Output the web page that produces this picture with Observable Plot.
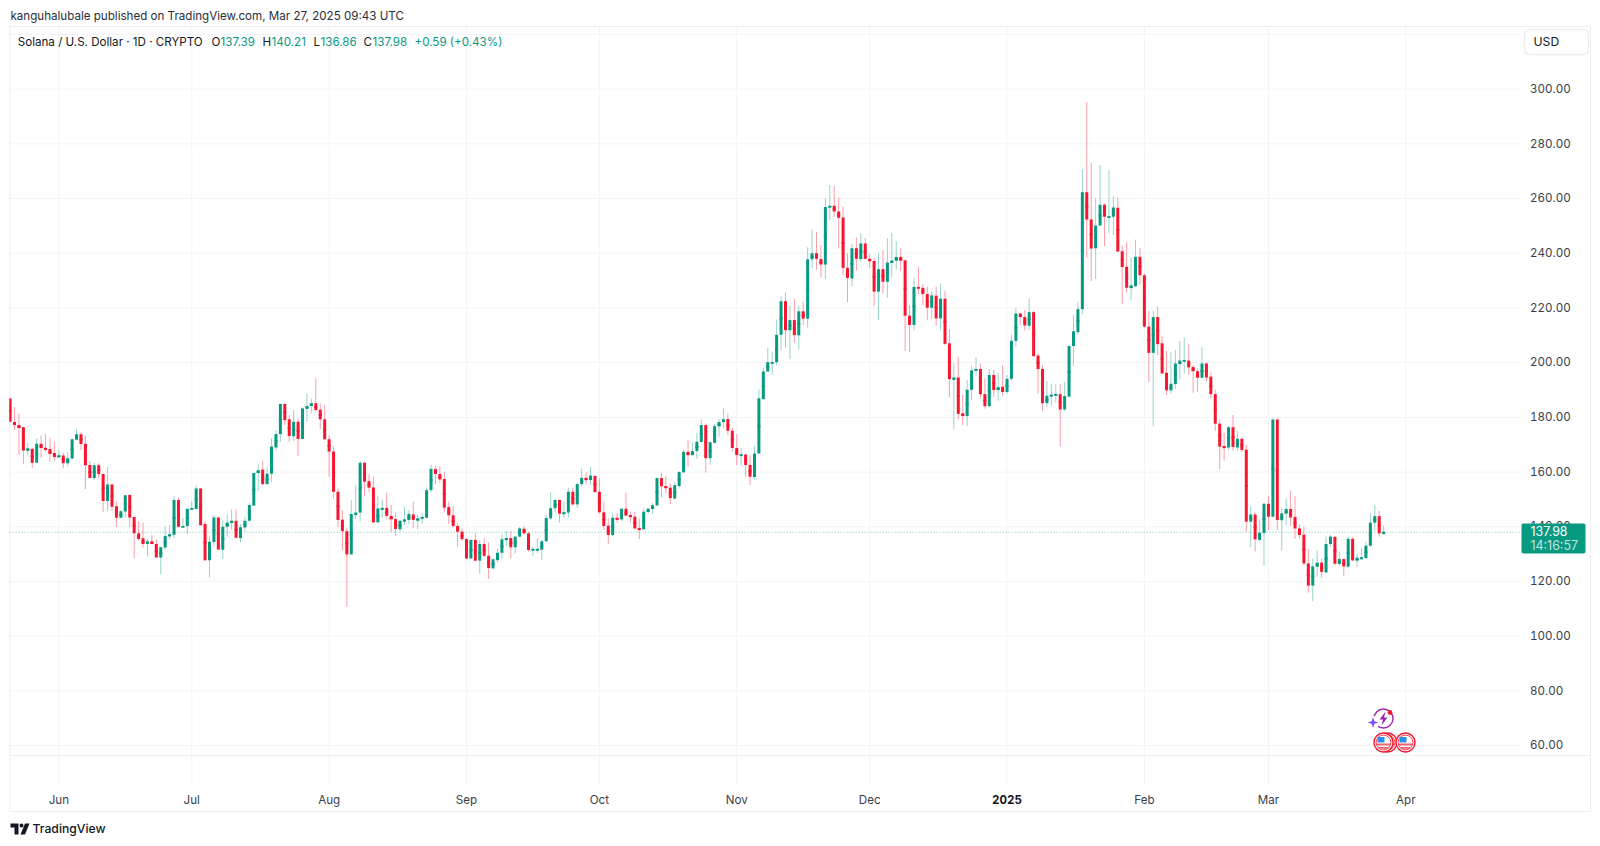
<!DOCTYPE html>
<html><head><meta charset="utf-8">
<style>html,body{margin:0;padding:0;background:#fff}svg{display:block}</style>
<script src="https://cdn.jsdelivr.net/npm/d3@7"></script>
<script src="https://cdn.jsdelivr.net/npm/@observablehq/plot@0.6"></script>
</head><body><div id="chart"></div>
<script>
const firstDay = "2024-05-21";
const openPrices = [
186.7,178.1,177.0,176.2,167.7,168.3,163.2,170.2,168.7,168.2,
166.8,165.3,165.9,163.0,164.8,171.6,173.6,170.2,162.4,157.6,
162.3,159.1,149.2,155.3,147.3,143.1,145.4,151.4,143.4,137.4,
135.6,133.5,134.5,133.5,128.6,132.2,136.4,136.9,149.6,139.8,
140.1,146.3,146.3,153.8,140.8,127.6,134.2,143.2,131.4,139.8,
141.3,142.0,135.7,139.5,142.0,147.6,159.5,160.7,155.4,159.2,
168.8,173.7,184.7,179.1,172.9,178.2,171.9,183.0,184.0,185.0,
182.6,179.1,171.8,167.3,152.6,142.4,138.2,129.7,144.3,145.0,
163.2,156.5,154.2,141.4,146.3,146.7,143.8,142.6,138.9,141.9,
142.3,144.3,142.2,143.0,143.1,153.2,160.9,159.1,157.3,147.0,
144.0,140.1,138.0,135.3,128.2,135.0,127.4,133.5,129.2,124.6,
127.6,130.3,135.1,135.7,132.3,136.2,139.1,137.4,131.4,131.4,
131.4,134.5,142.9,146.6,149.6,144.7,145.0,152.6,148.0,155.4,
157.7,156.9,158.4,152.6,145.1,140.2,136.8,143.1,142.5,146.4,
144.1,143.5,139.3,138.9,145.2,146.3,147.6,157.6,154.7,154.1,
150.1,154.7,159.7,167.2,166.0,167.5,170.8,177.0,164.9,170.5,
176.5,178.1,179.2,174.9,168.6,166.0,166.2,162.4,158.0,166.6,
186.5,196.6,199.8,200.0,210.0,222.3,211.7,215.4,209.8,218.6,
215.9,237.6,239.8,237.7,235.7,256.7,257.2,255.1,252.9,234.5,
230.6,241.7,237.7,243.4,237.8,237.0,225.8,234.0,229.4,236.4,
237.1,238.5,237.2,217.0,213.6,227.5,227.2,224.9,219.9,224.3,
216.0,223.2,206.9,193.7,194.4,181.3,180.3,189.9,197.1,197.5,
188.3,183.9,195.3,189.8,191.0,189.1,193.9,207.8,217.8,216.5,
213.3,218.3,202.4,197.5,185.0,187.7,188.0,188.3,182.7,187.4,
205.9,211.0,219.4,262.1,252.2,241.7,250.0,257.6,253.1,253.2,
256.5,240.6,234.9,227.1,227.8,238.5,231.8,213.0,203.4,216.5,
206.9,196.1,189.7,192.0,199.3,200.5,200.6,198.2,196.7,194.3,
199.5,194.7,188.3,177.5,169.3,168.8,176.2,168.8,172.0,168.0,
141.7,144.3,135.0,137.5,148.2,143.5,179.0,142.2,144.6,146.3,
143.4,139.2,136.9,126.4,118.3,125.2,126.7,123.1,133.5,136.1,
126.2,128.0,125.2,135.4,127.5,128.2,128.4,132.9,141.3,143.7,137.39];
const highPrices = [
187.0,183.6,181.2,176.4,170.4,168.5,172.1,173.2,173.7,172.4,
170.9,167.9,166.9,167.1,172.0,175.5,174.4,173.0,163.8,163.0,
163.0,159.3,161.8,155.4,149.0,145.9,151.4,151.7,143.5,141.8,
141.3,135.3,136.8,135.1,132.5,139.8,140.4,151.0,150.4,143.0,
146.4,149.2,155.0,154.0,141.7,136.2,144.1,143.5,142.3,144.3,
146.2,146.2,140.8,143.5,148.4,159.6,162.7,163.8,161.5,172.1,
175.2,184.9,184.9,180.7,182.5,179.4,183.5,188.5,186.7,194.1,
184.9,184.3,173.1,169.3,153.8,145.9,139.5,149.6,155.0,163.8,
163.5,159.0,158.1,151.0,149.8,152.3,147.8,145.0,142.3,147.1,
145.9,149.0,144.3,145.0,154.1,162.4,162.1,162.0,159.8,149.0,
147.4,141.0,139.2,135.6,135.2,137.4,135.0,135.6,134.1,128.1,
131.9,137.2,138.2,138.2,136.5,139.8,139.9,138.0,132.5,135.6,
135.0,144.1,152.4,149.8,149.8,149.0,154.1,154.1,155.9,161.2,
159.6,161.8,158.7,157.5,149.0,142.9,144.7,144.9,146.6,152.3,
145.3,145.3,142.9,146.5,146.8,148.6,157.9,159.6,158.3,155.7,
156.3,160.2,168.1,171.5,170.7,174.2,179.1,177.6,171.0,177.4,
179.2,183.1,181.3,176.1,173.7,168.5,166.7,166.0,169.3,190.0,
198.0,205.3,203.8,215.6,224.2,225.5,220.6,223.0,220.5,222.1,
242.0,248.5,247.7,242.8,259.9,264.8,264.4,260.1,256.8,239.8,
243.2,245.6,247.1,245.4,239.5,238.2,239.8,241.0,245.3,247.3,
244.2,241.6,237.6,220.9,230.8,234.9,228.6,227.6,225.8,227.6,
228.8,226.1,212.1,199.5,202.0,188.0,193.5,198.7,201.7,199.5,
194.1,197.5,197.3,196.1,198.9,195.3,210.1,219.7,218.1,219.0,
223.3,218.8,203.2,198.9,193.1,192.0,192.2,192.0,192.8,206.0,
217.2,222.1,270.5,295.1,272.9,259.9,272.1,258.1,270.2,260.7,
260.1,242.5,243.9,238.5,244.8,241.8,232.5,218.8,218.8,220.3,
209.5,204.1,203.7,204.4,207.7,209.0,206.5,199.0,197.7,205.4,
199.9,196.3,189.8,179.1,174.2,176.6,180.7,174.8,172.5,169.7,
147.2,145.1,142.6,148.6,151.2,179.6,179.6,146.5,150.0,153.0,
151.0,140.7,139.8,131.7,128.2,131.3,128.2,136.2,136.8,136.4,
130.7,128.2,136.2,135.9,130.1,131.9,134.3,144.7,147.8,145.6,140.21];
const lowPrices = [
178.0,175.2,166.0,162.7,166.0,161.2,163.2,164.9,167.3,163.6,
164.0,165.3,161.2,162.0,164.7,171.4,167.9,153.6,157.5,156.9,
157.5,145.3,145.7,145.7,139.8,142.9,143.2,139.8,128.3,134.8,
132.2,128.9,133.4,128.5,122.4,131.4,135.2,135.6,139.6,139.6,
137.1,145.9,146.2,140.2,127.3,121.3,132.5,131.3,128.0,136.4,
138.6,135.6,134.1,138.0,141.7,147.4,152.9,155.2,155.2,156.3,
167.6,170.9,177.0,170.9,171.2,165.7,171.8,178.2,181.5,181.9,
175.5,171.5,158.1,150.2,139.8,131.3,110.5,129.6,142.5,141.7,
151.0,152.6,141.3,141.4,143.2,142.9,138.0,136.4,138.0,140.4,
140.7,139.2,139.0,140.8,142.9,152.4,155.4,155.9,145.1,140.8,
139.5,132.5,134.6,128.0,128.0,127.2,122.8,128.6,120.7,124.2,
126.8,128.0,132.8,128.2,130.1,135.9,137.0,130.7,129.1,130.3,
127.6,134.2,142.3,144.9,141.4,142.9,143.2,147.5,146.8,154.4,
155.3,155.1,152.3,144.7,138.6,133.4,136.4,141.3,141.9,143.7,
141.3,138.9,135.3,138.6,144.7,144.5,147.4,150.6,152.0,148.0,
149.8,153.8,159.6,161.8,165.8,164.6,170.7,159.6,162.4,170.3,
172.7,175.8,173.3,167.3,162.4,162.4,158.1,155.1,157.1,166.4,
186.1,196.4,195.4,198.9,204.4,205.4,201.1,207.1,204.7,213.6,
212.6,234.3,233.9,231.0,230.3,252.0,253.2,241.6,231.7,222.0,
227.8,233.4,236.7,237.6,234.5,220.6,215.4,225.1,223.6,231.2,
233.9,233.4,204.1,203.6,211.7,224.9,220.9,215.4,215.8,213.3,
211.7,206.2,187.1,175.4,179.1,177.0,176.6,186.1,195.0,186.7,
183.0,183.5,187.3,185.9,187.7,188.3,193.2,205.6,213.6,211.7,
211.7,202.0,188.6,182.2,183.7,184.1,185.3,169.3,182.0,187.1,
198.6,209.9,217.6,238.2,229.7,230.4,249.8,242.5,247.3,246.5,
240.3,221.2,225.4,222.5,227.3,228.3,212.7,192.7,176.4,202.6,
195.6,188.0,188.6,190.2,193.7,195.9,195.3,188.8,189.2,194.2,
192.8,186.8,174.9,160.9,164.0,167.9,167.6,167.6,167.0,138.0,
132.3,130.7,134.7,125.6,138.6,143.2,138.6,131.1,140.4,140.2,
135.3,135.4,125.8,115.7,112.6,121.6,121.2,122.9,132.5,125.6,
125.6,121.9,124.7,127.2,125.0,128.0,128.2,132.5,138.4,136.2,136.86];
const closePrices = [
178.2,177.0,175.9,167.7,168.5,163.2,170.2,168.6,168.0,166.4,
165.3,166.0,163.0,164.9,171.8,173.6,170.1,162.3,157.6,162.3,
159.1,149.2,155.3,147.1,143.1,145.5,151.3,143.2,137.4,135.3,
133.5,134.5,133.5,128.6,132.3,136.4,137.1,149.6,139.8,140.1,
146.4,146.7,153.8,140.4,127.6,134.3,143.2,131.5,139.8,141.4,
142.0,135.8,139.6,142.0,147.8,159.5,160.5,155.4,159.2,169.1,
173.7,184.7,178.8,173.0,178.2,171.9,183.1,184.0,185.0,182.5,
179.1,171.8,167.3,152.6,142.3,138.2,129.7,144.5,145.0,163.2,
156.3,154.1,141.4,146.5,146.7,143.8,142.5,139.0,142.0,142.5,
144.5,142.3,142.9,143.4,153.2,161.0,159.1,157.1,146.8,144.0,
140.1,138.0,135.3,128.2,135.0,127.4,133.5,129.2,124.7,127.9,
130.3,135.2,135.7,132.3,136.2,139.2,137.4,131.3,131.7,131.7,
134.5,143.0,146.6,149.6,144.6,145.1,152.6,148.0,155.4,157.7,
157.0,158.5,152.5,145.1,140.1,136.8,143.1,142.6,146.4,143.9,
143.5,139.2,138.9,145.3,146.4,147.7,157.6,154.6,154.1,150.3,
155.0,159.8,167.2,166.0,167.5,170.9,177.0,164.9,170.7,176.6,
178.1,179.1,174.9,168.6,166.0,166.3,162.4,158.1,166.6,186.8,
196.6,200.0,200.0,210.0,222.3,211.7,215.4,209.9,218.6,215.9,
237.6,239.8,237.8,235.7,256.7,257.2,255.1,252.8,234.5,230.8,
241.7,237.8,243.4,237.8,237.0,225.8,234.0,229.4,236.4,237.2,
238.5,237.1,217.0,213.6,227.5,227.2,224.9,219.9,224.4,216.0,
223.2,206.7,193.8,194.4,181.1,180.3,189.9,197.0,197.5,188.3,
183.9,195.3,189.8,190.9,189.1,193.9,207.8,217.8,216.5,213.4,
218.3,202.2,197.5,185.0,187.7,188.1,188.3,182.7,187.6,205.9,
211.3,219.4,262.1,252.2,241.6,250.0,257.6,253.2,253.3,256.6,
240.5,234.8,227.2,228.1,238.5,231.8,213.0,203.4,216.5,206.6,
195.9,189.7,192.1,199.5,200.6,200.8,198.1,196.7,194.3,199.5,
194.4,188.3,177.5,169.1,168.8,176.2,169.0,172.0,167.9,141.7,
144.3,135.2,137.6,148.2,143.5,179.0,142.3,144.7,146.3,143.2,
139.2,136.8,126.4,118.3,125.3,126.7,123.3,133.5,136.2,126.3,
128.0,125.3,135.4,127.5,128.5,128.6,132.9,141.3,143.7,137.4,137.98];
const priceTicks = [60,80,100,120,140,160,180,200,220,240,260,280,300];
const gridPrices = [...priceTicks,320];
const monthTicks = ["2024-06-01","2024-07-01","2024-08-01","2024-09-01","2024-10-01","2024-11-01","2024-12-01","2025-01-01","2025-02-01","2025-03-01","2025-04-01"].map(d=>new Date(d));
const monthLabels = ["Jun","Jul","Aug","Sep","Oct","Nov","Dec","2025","Feb","Mar","Apr"];
const lastClose = 137.98;

const UP="#089981", DOWN="#f7162f", GRID="#f3f4f7", LINE="#eceef2", INK="#131722", AXIS="#3a3e4a";
const start = new Date(firstDay);
const candles = openPrices.map((o,i)=>({date:d3.utcDay.offset(start,i),o,h:highPrices[i],l:lowPrices[i],c:closePrices[i]}));
const col = d => d.c>=d.o ? UP : DOWN;
const paneEnd = new Date("2025-04-27");
const LEFT=9.3, TOP=26;
const label=(s,x,y,o={})=>Plot.text([s],{frameAnchor:"top-left",dx:x-LEFT,dy:y-TOP,textAnchor:"start",lineAnchor:"middle",fontSize:11.6,fill:INK,...o});
const glyph=(draw,x,y,o={})=>Plot.dot([0],{frameAnchor:"top-left",dx:x-LEFT,dy:y-TOP,r:5,symbol:{draw},stroke:"none",...o});
const circle=(c,r)=>{c.moveTo(r,0);c.arc(0,0,r,0,2*Math.PI);};
const flag=(x,y)=>[
  glyph(c=>circle(c,9.5),x,y,{fill:"#fff",stroke:"#f7162f",strokeWidth:1.4}),
  glyph(c=>circle(c,7.4),x,y,{fill:"#fff",stroke:"#f7162f",strokeWidth:0.8}),
  glyph(c=>{c.rect(-6.5,1,13,2);c.rect(-5,4.6,10,1.6);},x,y,{fill:"#f4616f"}),
  glyph(c=>c.rect(-6,-5.5,7,5.5),x,y,{fill:"#2b8fe8"})
];

const chart = Plot.plot({
  width:1600,height:846,marginLeft:LEFT,marginTop:TOP,marginRight:10,marginBottom:35,
  style:{fontFamily:"Inter, 'Noto Sans', sans-serif",background:"#fff"},
  x:{type:"utc",domain:[start,new Date("2025-04-01")],range:[9.6,1405.3],label:null},
  y:{type:"linear",domain:[60,300],range:[745,88.7],label:null},
  marks:[
    Plot.frame({stroke:LINE}),
    Plot.ruleX(monthTicks,{x:d=>d,y1:45.4,y2:322.9,stroke:GRID}),
    Plot.ruleY(gridPrices,{y:d=>d,x1:start,x2:paneEnd,stroke:GRID,clip:true}),
    Plot.ruleY([56.34],{y:d=>d,stroke:LINE}),
    Plot.ruleY([lastClose],{y:d=>d,x1:start,x2:paneEnd,stroke:UP,strokeOpacity:0.55,strokeDasharray:"1,2"}),
    Plot.ruleX(candles,{x:"date",y1:"l",y2:"h",stroke:col,strokeOpacity:0.42,strokeWidth:1,clip:true}),
    Plot.ruleX(candles,{x:"date",y1:"o",y2:"c",stroke:col,strokeWidth:3,clip:true}),
    Plot.dot(candles,{x:"date",y:d=>(d.o+d.c)/2,symbol:{draw(c){c.rect(-1.5,-0.9,3,1.8);}},fill:col,stroke:"none",r:2,clip:true}),
    Plot.axisY(priceTicks,{anchor:"right",tickSize:0,tickPadding:0,dx:-60.5,tickFormat:d3.format(".2f"),fontSize:11.6,fill:AXIS,label:null}),
    Plot.axisX(monthTicks.filter((d,i)=>i!==7),{anchor:"bottom",tickSize:0,tickPadding:0,dy:-16,fontSize:11.6,fill:AXIS,label:null,
      tickFormat:d=>monthLabels[monthTicks.findIndex(m=>+m===+d)]}),
    Plot.axisX([monthTicks[7]],{anchor:"bottom",tickSize:0,tickPadding:0,dy:-16,fontSize:11.6,fontWeight:700,fill:INK,label:null,tickFormat:()=>monthLabels[7]}),

    label("kanguhalubale published on TradingView.com, Mar 27, 2025 09:43 UTC",10,15.5,{fill:"#2a2e39"}),
    label("Solana / U.S. Dollar · 1D · CRYPTO",17.3,41.5),
    label("O",211,41.5),label("137.39",220,41.5,{fill:UP}),
    label("H",262,41.5),label("140.21",271,41.5,{fill:UP}),
    label("L",313,41.5),label("136.86",320,41.5,{fill:UP}),
    label("C",363,41.5),label("137.98",372,41.5,{fill:UP}),
    label("+0.59 (+0.43%)",414,41.5,{fill:UP}),

    glyph(c=>{c.moveTo(5,0);c.lineTo(59,0);c.arcTo(64,0,64,5,5);c.lineTo(64,20);c.arcTo(64,25,59,25,5);c.lineTo(5,25);c.arcTo(0,25,0,20,5);c.lineTo(0,5);c.arcTo(0,0,5,0,5);c.closePath();},1524,29,{fill:"#fff",stroke:LINE}),
    label("USD",1533,42,{fontSize:12.2}),

    glyph(c=>{c.moveTo(2,0);c.lineTo(62,0);c.arcTo(64,0,64,2,2);c.lineTo(64,28);c.arcTo(64,30,62,30,2);c.lineTo(2,30);c.arcTo(0,30,0,28,2);c.lineTo(0,2);c.arcTo(0,0,2,0,2);c.closePath();},1521,523,{fill:UP}),
    label("137.98",1530,532,{fill:"#fff",fontSize:12.4}),
    label("14:16:57",1530,545.5,{fill:"#fff",fillOpacity:0.75,fontSize:12.4}),

    glyph(c=>circle(c,9.5),1383,718,{fill:"none",stroke:"#9c27b0",strokeWidth:1.4}),
    glyph(c=>{c.moveTo(2,-7);c.lineTo(-4,1);c.lineTo(-0.5,1);c.lineTo(-2,7);c.lineTo(4,-1);c.lineTo(0.5,-1);c.closePath();},1383,718,{fill:"#9c27b0"}),
    glyph(c=>circle(c,2.4),1389.5,712,{fill:"#f7162f"}),
    glyph(c=>circle(c,6.5),1372.5,722,{fill:"#fff"}),
    glyph(c=>{c.moveTo(0,-5.5);c.lineTo(1.3,-1.3);c.lineTo(5.5,0);c.lineTo(1.3,1.3);c.lineTo(0,5.5);c.lineTo(-1.3,1.3);c.lineTo(-5.5,0);c.lineTo(-1.3,-1.3);c.closePath();},1372.5,722,{fill:"#7c4dff"}),
    ...flag(1387,742),...flag(1383,742),...flag(1405,742),

    glyph(c=>{c.moveTo(0,0);c.lineTo(8,0);c.lineTo(8,11);c.lineTo(4,11);c.lineTo(4,4);c.lineTo(0,4);c.closePath();
      c.moveTo(13,2);c.arc(11,2,2,0,2*Math.PI);
      c.moveTo(14.5,0);c.lineTo(19,0);c.lineTo(14.5,11);c.lineTo(10,11);c.closePath();},10,823,{fill:INK}),
    label("TradingView",32,829,{fontSize:12.2,fontWeight:500})
  ]
});
document.getElementById("chart").append(chart);
</script></body></html>
